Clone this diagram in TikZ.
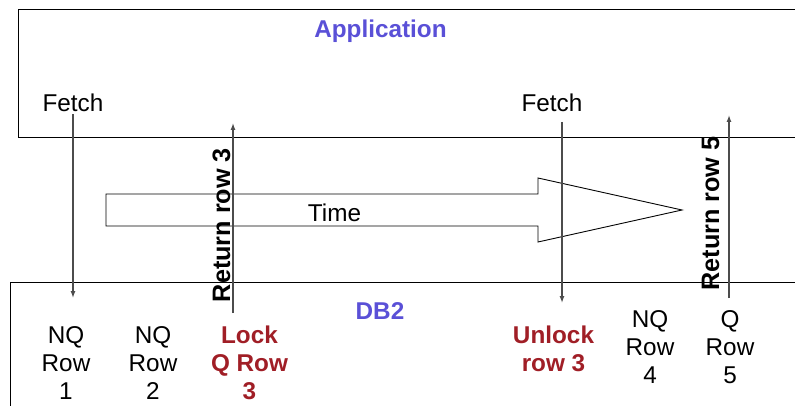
\documentclass[tikz,border=0pt]{standalone}
\usepackage{fontspec}
\setmainfont{Liberation Sans}
\usetikzlibrary{arrows.meta}
\definecolor{appblue}{RGB}{90,80,215}
\definecolor{lockred}{RGB}{160,30,38}
\tikzset{
  txt/.style={font=\fontsize{24.3}{28}\selectfont, inner sep=0pt},
  boldtxt/.style={font=\fontsize{24.3}{28}\selectfont\bfseries, inner sep=0pt},
  boxtitle/.style={boldtxt, text=appblue, anchor=base},
  rowtxt/.style={txt, align=center, anchor=north},
  locktxt/.style={boldtxt, text=lockred, align=center, anchor=north},
  rettxt/.style={font=\fontsize{25.2}{28}\selectfont\bfseries, inner sep=0pt, rotate=90, anchor=base},
  boxline/.style={draw=black, line width=1pt},
  flow/.style={draw=black!70, line width=1.3pt, -{Latex[length=7pt,width=5pt]}}
}
\begin{document}
\begin{tikzpicture}[x=1pt, y=-1pt]
        \useasboundingbox (0,0) rectangle (795,406);
        \clip (0,0) rectangle (795,406);

        % Application side
        \draw[boxline] (800,10) -- (18,10) -- (18,138) -- (800,138);
        \node[boxtitle] (app) at (380.5,38) {Application};

        % DB2 side
        \draw[boxline] (10,410) -- (10,282) -- (800,282);
        \node[boxtitle] (db) at (380,319) {DB2};

        % Time arrow
        \draw[line width=0.9pt] (106,194) -- (538,194) -- (538,178) -- (682,210)
            -- (538,242) -- (538,226) -- (106,226) -- cycle;
        \node[txt, anchor=base] (time) at (334.5,222) {Time};

        % Fetches
        \node[txt, anchor=base] (fetchA) at (73,112) {Fetch};
        \node[txt, anchor=base] (fetchB) at (552,112) {Fetch};
        \coordinate (lockA) at (73,298);
        \coordinate (fetchBtop) at (562,122);
        \coordinate (unlockA) at (562,303);
        \draw[flow] ([yshift=-2pt]fetchA.south) -- (lockA);
        \draw[flow] (fetchBtop) -- (unlockA);

        % Returned rows
        \node[rettxt] (retC) at (230,225) {Return row 3};
        \node[rettxt] (retE) at (719,213.5) {Return row 5};
        \coordinate (retCbot) at (233,313);
        \coordinate (retCtop) at (233,123);
        \coordinate (retEbot) at (729,298);
        \coordinate (retEtop) at (729,115);
        \draw[flow] (retCbot) -- (retCtop);
        \draw[flow] (retEbot) -- (retEtop);

        % Rows in DB2
        \node[rowtxt] (rowA) at (66,326) {NQ\\Row\\1};
        \node[rowtxt] (rowB) at (153,326) {NQ\\Row\\2};
        \node[locktxt] (rowC) at (249.5,326) {Lock\\Q Row\\3};
        \node[locktxt] (unlock) at (553.5,326) {Unlock\\row 3};
        \node[rowtxt] (rowD) at (650,310) {NQ\\Row\\4};
        \node[rowtxt] (rowE) at (730,310) {Q\\Row\\5};
    \end{tikzpicture}
\end{document}
